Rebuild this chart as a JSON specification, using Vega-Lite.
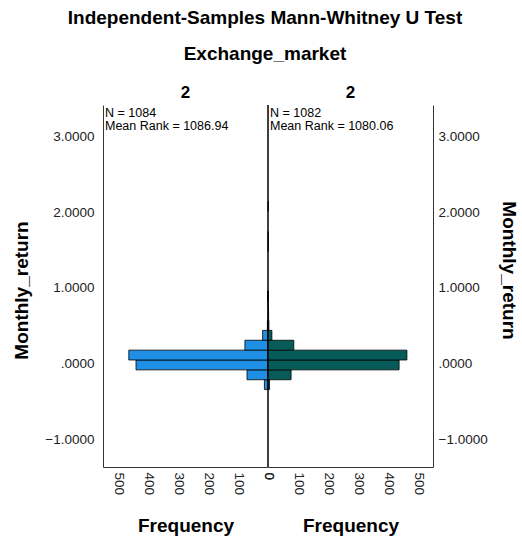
{
  "$schema": "https://vega.github.io/schema/vega-lite/v6.json",
  "padding": {"left": 12, "top": 8, "right": 5, "bottom": 5},
  "background": "white",
  "bounds": "flush",
  "title": {
    "text": "Independent-Samples Mann-Whitney U Test",
    "subtitle": "Exchange_market",
    "font": "Liberation Sans",
    "fontSize": 19,
    "fontWeight": "bold",
    "color": "black",
    "subtitleFont": "Liberation Sans",
    "subtitleFontSize": 19,
    "subtitleFontWeight": "bold",
    "subtitleColor": "black",
    "subtitlePadding": 17,
    "anchor": "middle",
    "offset": 20
  },
  "datasets": {
    "bins": [
      {"side": "left", "lo": -0.34, "hi": -0.21, "count": 12},
      {"side": "left", "lo": -0.21, "hi": -0.08, "count": 70},
      {"side": "left", "lo": -0.08, "hi": 0.05, "count": 440},
      {"side": "left", "lo": 0.05, "hi": 0.18, "count": 464},
      {"side": "left", "lo": 0.18, "hi": 0.31, "count": 77},
      {"side": "left", "lo": 0.31, "hi": 0.44, "count": 18},
      {"side": "left", "lo": 0.44, "hi": 0.57, "count": 2},
      {"side": "left", "lo": 0.83, "hi": 0.96, "count": 1},
      {"side": "right", "lo": -0.34, "hi": -0.21, "count": 5},
      {"side": "right", "lo": -0.21, "hi": -0.08, "count": 77},
      {"side": "right", "lo": -0.08, "hi": 0.05, "count": 437},
      {"side": "right", "lo": 0.05, "hi": 0.18, "count": 463},
      {"side": "right", "lo": 0.18, "hi": 0.31, "count": 86},
      {"side": "right", "lo": 0.31, "hi": 0.44, "count": 13},
      {"side": "right", "lo": 0.44, "hi": 0.57, "count": 3},
      {"side": "right", "lo": 0.57, "hi": 0.70, "count": 2},
      {"side": "right", "lo": 0.70, "hi": 0.83, "count": 1},
      {"side": "right", "lo": 0.83, "hi": 0.96, "count": 1},
      {"side": "right", "lo": 1.48, "hi": 1.61, "count": 1},
      {"side": "right", "lo": 1.61, "hi": 1.74, "count": 1},
      {"side": "right", "lo": 2.01, "hi": 2.14, "count": 1}
    ],
    "info": [
      {"side": "left", "label": "N = 1084\nMean Rank = 1086.94", "zero": 0},
      {"side": "right", "label": "N = 1082\nMean Rank = 1080.06", "zero": 0}
    ]
  },
  "spacing": 0,
  "config": {
    "view": {"stroke": null},
    "font": "Liberation Sans",
    "title": {"font": "Liberation Sans", "fontSize": 17, "fontWeight": "bold", "color": "black"},
    "axis": {
      "grid": false,
      "ticks": false,
      "labelFont": "Liberation Sans",
      "labelFontSize": 13.5,
      "labelColor": "#222",
      "labelOverlap": false,
      "labelFlush": false,
      "titleFont": "Liberation Sans",
      "titleFontSize": 19,
      "titleFontWeight": "bold",
      "titleColor": "black",
      "domainColor": "#333"
    }
  },
  "hconcat": [
    {
      "width": 165,
      "height": 362,
      "title": {"text": "2", "fontSize": 17, "offset": 3},
      "layer": [
        {
          "data": {"name": "bins"},
          "transform": [{"filter": "datum.side == 'left'"}],
          "mark": {"type": "rect", "color": "#1E8FE4", "stroke": "black", "strokeWidth": 0.8},
          "encoding": {
            "x": {"field": "count", "type": "quantitative",
              "scale": {"domain": [0, 550], "reverse": true, "nice": false},
              "axis": {"values": [0, 100, 200, 300, 400, 500], "tickCount": 20, "labelOverlap": false, "labelAngle": 90, "labelAlign": "left", "labelBaseline": "middle", "labelPadding": 5, "title": "Frequency", "titlePadding": 22}},
            "x2": {"datum": 0},
            "y": {"field": "lo", "type": "quantitative",
              "scale": {"domain": [-1.36, 3.41], "nice": false, "zero": false},
              "axis": {"values": [-1, 0, 1, 2, 3], "tickCount": 20, "labelOverlap": false, "labelExpr": "datum.value == 0 ? '.0000' : format(datum.value, '.4f')", "labelPadding": 9, "title": "Monthly_return", "titlePadding": 13, "titleY": 185}},
            "y2": {"field": "hi"}
          }
        },
        {
          "data": {"name": "info"},
          "transform": [{"filter": "datum.side == 'left'"}],
          "mark": {"type": "rule", "color": "black", "strokeWidth": 1},
          "encoding": {"x": {"field": "zero", "type": "quantitative"}}
        },
        {
          "data": {"name": "info"},
          "transform": [{"filter": "datum.side == 'left'"}],
          "mark": {"type": "text", "align": "left", "baseline": "top", "lineBreak": "\n", "fontSize": 12.5, "dx": 2, "dy": 2, "lineHeight": 13, "color": "black"},
          "encoding": {
            "x": {"datum": 550, "type": "quantitative"},
            "y": {"datum": 3.41, "type": "quantitative"},
            "text": {"field": "label", "type": "nominal"}
          }
        }
      ]
    },
    {
      "width": 165,
      "height": 362,
      "title": {"text": "2", "fontSize": 17, "offset": 3},
      "layer": [
        {
          "data": {"name": "bins"},
          "transform": [{"filter": "datum.side == 'right'"}],
          "mark": {"type": "rect", "color": "#075C5A", "stroke": "black", "strokeWidth": 0.8},
          "encoding": {
            "x": {"field": "count", "type": "quantitative",
              "scale": {"domain": [0, 550], "nice": false},
              "axis": {"values": [0, 100, 200, 300, 400, 500], "tickCount": 20, "labelOverlap": false, "labelAngle": 90, "labelAlign": "left", "labelBaseline": "middle", "labelPadding": 5, "title": "Frequency", "titlePadding": 22}},
            "x2": {"datum": 0},
            "y": {"field": "lo", "type": "quantitative",
              "scale": {"domain": [-1.36, 3.41], "nice": false, "zero": false},
              "axis": {"orient": "right", "values": [-1, 0, 1, 2, 3], "tickCount": 20, "labelOverlap": false, "labelExpr": "datum.value == 0 ? '.0000' : format(datum.value, '.4f')", "labelPadding": 5, "title": "Monthly_return", "titlePadding": 11, "titleY": 165}},
            "y2": {"field": "hi"}
          }
        },
        {
          "data": {"name": "info"},
          "transform": [{"filter": "datum.side == 'right'"}],
          "mark": {"type": "rule", "color": "black", "strokeWidth": 1},
          "encoding": {"x": {"field": "zero", "type": "quantitative"}}
        },
        {
          "data": {"name": "info"},
          "transform": [{"filter": "datum.side == 'right'"}],
          "mark": {"type": "text", "align": "left", "baseline": "top", "lineBreak": "\n", "fontSize": 12.5, "dx": 2, "dy": 2, "lineHeight": 13, "color": "black"},
          "encoding": {
            "x": {"datum": 0, "type": "quantitative"},
            "y": {"datum": 3.41, "type": "quantitative"},
            "text": {"field": "label", "type": "nominal"}
          }
        }
      ]
    }
  ]
}
